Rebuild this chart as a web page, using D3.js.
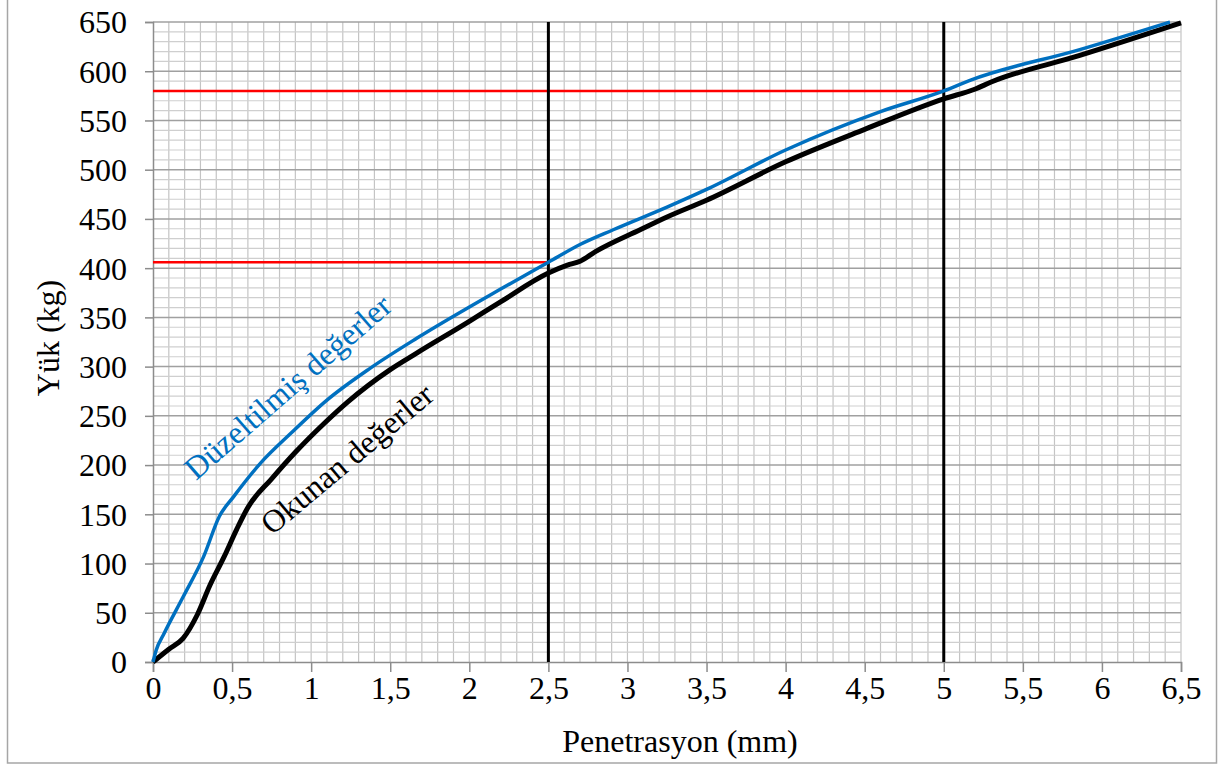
<!DOCTYPE html>
<html>
<head>
<meta charset="utf-8">
<script src="https://cdn.jsdelivr.net/npm/d3@7"></script>
<style>
body { margin:0; background:#fff; }
text { font-family:"Liberation Serif","Times New Roman",serif; }
</style>
</head>
<body>
<svg id="chart"></svg>
<script>
// okunan (read) values
var okunanX = [0,0.1,0.19,0.28,0.36,0.45,0.53,0.6,0.75,0.9,1.08,1.23,1.5,1.67,2.0,2.2,2.5,2.62,2.7,2.8,3.08,3.25,3.5,4.0,4.5,5.0,5.2,5.3,5.86,6.5];
var okunanY = [0,13,24,48,78,107,135,157,186,213,242,264,297,314,346,366,395,403,407,417,439,452,469,508,541,572,582,589,616,649];
// duzeltilmis (corrected) values
var duzeltX = [0,0.02,0.07,0.19,0.32,0.42,0.51,0.68,0.87,1.1,1.37,1.67,2.19,2.5,2.7,2.91,3.25,3.5,4.0,4.6,5.0,5.17,5.86,6.43];
var duzeltY = [0,12,29,66,107,148,168,202,232,266,298,329,378,406,424,439,462,480,520,559,580,591,622,650];
// reference marks at 2.5 and 5 mm
var refX = [2.5,5];
var refY = [406,580];

var xTicks = d3.range(0,6.51,0.5);
var yTicks = d3.range(0,651,50);

var screen = {width:1230,height:767};
var margins = {left:153,right:49,top:22,bottom:105};
var graph = {
    width:screen.width-margins.left-margins.right,
    height:screen.height-margins.top-margins.bottom
};
var fontSize = "32px";

var svg = d3.select("#chart")
    .attr("width",screen.width)
    .attr("height",screen.height);

// outer frame
svg.append("rect")
    .attr("x",7.5).attr("y",-3)
    .attr("width",1209).attr("height",766)
    .attr("fill","none")
    .attr("stroke","#a6a6a6")
    .attr("stroke-width",1.5);

var xScale = d3.scaleLinear().domain([0,6.5]).range([0,graph.width]);
var yScale = d3.scaleLinear().domain([0,650]).range([graph.height,0]);

var target = svg.append("g")
    .attr("transform","translate("+margins.left+","+margins.top+")");

// minor grid
var grid = target.append("g");
grid.selectAll("line.vx")
    .data(d3.range(1,66))
    .enter().append("line")
    .attr("x1",function(d){return xScale(d/10);})
    .attr("x2",function(d){return xScale(d/10);})
    .attr("y1",0).attr("y2",graph.height)
    .attr("stroke","#c4c4c4").attr("stroke-width",1.2);
grid.selectAll("line.hy")
    .data(d3.range(1,65).filter(function(d){return d%5!=0;}))
    .enter().append("line")
    .attr("y1",function(d){return yScale(d*10);})
    .attr("y2",function(d){return yScale(d*10);})
    .attr("x1",0).attr("x2",graph.width)
    .attr("stroke","#cfcfcf").attr("stroke-width",1.2);
grid.selectAll("line.hmaj")
    .data(yTicks.filter(function(d){return d>0;}))
    .enter().append("line")
    .attr("y1",function(d){return yScale(d);})
    .attr("y2",function(d){return yScale(d);})
    .attr("x1",0).attr("x2",graph.width)
    .attr("stroke","#a0a0a0").attr("stroke-width",1.5);

// axes
var xAxis = d3.axisBottom(xScale).tickValues(xTicks).tickSize(10).tickPadding(4)
    .tickFormat(function(d){return String(d).replace(".",",");});
var yAxis = d3.axisLeft(yScale).tickValues(yTicks).tickSize(8).tickPadding(18)
    .tickFormat(d3.format("d"));

var gx = target.append("g")
    .attr("transform","translate(0,"+graph.height+")")
    .call(xAxis);
var gy = target.append("g").call(yAxis);
[gx,gy].forEach(function(g){
    g.attr("font-family",null).attr("font-size",null);
    g.select(".domain").attr("stroke","#8c8c8c").attr("stroke-width",1.5);
    g.selectAll(".tick line").attr("stroke","#8c8c8c").attr("stroke-width",1.5);
    g.selectAll(".tick text").attr("fill","#000").style("font-size",fontSize)
        .style("font-family","'Liberation Serif',serif");
});
gy.selectAll(".tick text").attr("dy","0.34em");

// red lines
target.selectAll("line.red")
    .data(refX)
    .enter().append("line")
    .attr("x1",0)
    .attr("x2",function(d){return xScale(d);})
    .attr("y1",function(d,i){return yScale(refY[i]);})
    .attr("y2",function(d,i){return yScale(refY[i]);})
    .attr("stroke","#ff0000").attr("stroke-width",2.5);

// vertical reference lines
target.selectAll("line.ref")
    .data(refX)
    .enter().append("line")
    .attr("x1",function(d){return xScale(d);})
    .attr("x2",function(d){return xScale(d);})
    .attr("y1",0).attr("y2",graph.height)
    .attr("stroke","#000").attr("stroke-width",3);

var line = d3.line()
    .x(function(d){return xScale(d[0]);})
    .y(function(d){return yScale(d[1]);})
    .curve(d3.curveMonotoneX);

target.append("path")
    .datum(d3.zip(okunanX,okunanY))
    .attr("d",line)
    .attr("fill","none")
    .attr("stroke","#000")
    .attr("stroke-width",5)
    .attr("stroke-linejoin","round");

target.append("path")
    .datum(d3.zip(duzeltX,duzeltY))
    .attr("d",line)
    .attr("fill","none")
    .attr("stroke","#0070c0")
    .attr("stroke-width",3.5)
    .attr("stroke-linejoin","round");

// labels
var labels = svg.append("g").style("font-size",fontSize);
labels.append("text")
    .text("Penetrasyon (mm)")
    .attr("text-anchor","middle")
    .attr("x",680).attr("y",752);
labels.append("text")
    .text("Yük (kg)")
    .attr("text-anchor","middle")
    .attr("transform","translate(59,338) rotate(-90)");
labels.append("text")
    .text("Düzeltilmiş değerler")
    .attr("fill","#0070c0")
    .attr("transform","translate(196,481) rotate(-41)");
labels.append("text")
    .text("Okunan değerler")
    .attr("fill","#000")
    .attr("transform","translate(272,536) rotate(-40)");
</script>
</body>
</html>
